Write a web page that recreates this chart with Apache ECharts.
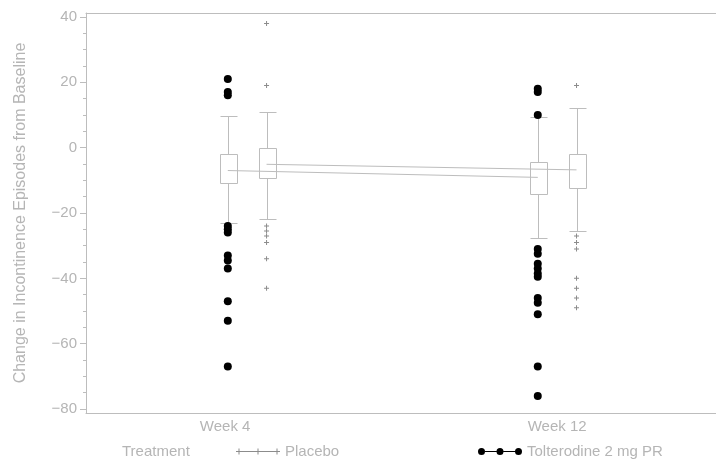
<!DOCTYPE html>
<html>
<head>
<meta charset="utf-8">
<script src="https://cdn.jsdelivr.net/npm/echarts@6/dist/echarts.min.js"></script>
<style>
html,body{margin:0;padding:0;background:#fff;}
#chart{width:716px;height:460px;}
</style>
</head>
<body>
<div id="chart"></div>
<script>
// Visits and their axis labels
const weeks = [4, 12];
const weekLabels = ['Week 4', 'Week 12'];

// Box summaries per visit: [lower whisker, Q1, median, Q3, upper whisker]
const tolterodineBox = [
  [-23.0, -10.8, -7.0, -1.9, 9.7],
  [-27.7, -14.1, -9.1, -4.5, 9.3]
];
const placeboBox = [
  [-21.8, -9.3, -5.1, -0.2, 10.9],
  [-25.4, -12.4, -6.8, -2.0, 12.0]
];

// Values outside the whiskers, per visit
const tolterodineOutliers = [
  [21, 17, 16, -24, -25, -26, -33, -34.5, -37, -47, -53, -67],
  [18, 17, 10, -31, -32.5, -35.5, -37, -38.5, -39.5, -46, -47.5, -51, -67, -76]
];
const placeboOutliers = [
  [38, 19, -24, -25.5, -27, -29, -34, -43],
  [19, -27, -29, -31, -40, -43, -46, -49]
];

// Y axis ticks
const yMajorTicks = [-80, -60, -40, -20, 0, 20, 40];
const yMinorTicks = [-80, -75, -70, -65, -60, -55, -50, -45, -40, -35, -30, -25, -20,
  -15, -10, -5, 0, 5, 10, 15, 20, 25, 30, 35, 40];

const TOL = 'Tolterodine 2 mg PR';
const PLA = 'Placebo';
const DODGE = 0.5;              // horizontal shift of each treatment around its visit
const LABEL_AT = [3.43, 12];    // where the visit names sit along the x axis
const BOX_W = 17;               // box width in pixels
const GREY = '#bdbdbd';
const TEXT = '#b5b5b5';
const FONT = 'Liberation Sans';

const X_MIN = -0.16, X_MAX = 16.1;
const Y_MIN = -81.2, Y_MAX = 41.2;

function boxRows(box, shift) {
  return box.map((b, i) => [weeks[i] + shift].concat(b));
}
function outlierRows(list, shift) {
  const rows = [];
  list.forEach((vals, i) => vals.forEach(v => rows.push([weeks[i] + shift, v])));
  return rows;
}
function medianRows(box, shift) {
  return box.map((b, i) => [weeks[i] + shift, b[2]]);
}

const px = v => Math.round(v) + 0.5;

function renderBox(params, api) {
  const x = api.value(0);
  const lo = api.coord([x, api.value(1)]);
  const q1 = api.coord([x, api.value(2)]);
  const q3 = api.coord([x, api.value(4)]);
  const hi = api.coord([x, api.value(5)]);
  const cx = px(lo[0]);
  const l = px(cx - BOX_W / 2), r = px(cx + BOX_W / 2);
  const yLo = px(lo[1]), yQ1 = px(q1[1]), yQ3 = px(q3[1]), yHi = px(hi[1]);
  const st = { stroke: GREY, lineWidth: 1, fill: null };
  const seg = (x1, y1, x2, y2) => ({ type: 'line', shape: { x1, y1, x2, y2 }, style: st });
  return {
    type: 'group',
    children: [
      { type: 'rect', shape: { x: l, y: yQ3, width: r - l, height: yQ1 - yQ3 }, style: st },
      seg(cx, yHi, cx, yQ3),
      seg(cx, yQ1, cx, yLo),
      seg(l, yHi, r, yHi),
      seg(l, yLo, r, yLo)
    ]
  };
}

const chart = echarts.init(document.getElementById('chart'), null, { renderer: 'canvas' });

const textStyle = { color: TEXT, fontFamily: FONT, fontSize: 15 };
const lineAxis = { show: true, onZero: false, lineStyle: { color: GREY, width: 1 } };

chart.setOption({
  animation: false,
  backgroundColor: '#fff',
  title: {
    text: 'Treatment',
    left: 122, top: 444, padding: 0,
    textStyle: Object.assign({ fontWeight: 'normal' }, textStyle)
  },
  legend: [
    {
      left: 236, top: 444, padding: 0,
      itemWidth: 44, itemHeight: 6,
      textStyle: textStyle,
      data: [{ name: PLA, icon: 'path://M0,3h44v1h-44zM2.5,0.5h1v6h-1zM21.5,0.5h1v6h-1zM40.5,0.5h1v6h-1z' }]
    },
    {
      left: 478, top: 444, padding: 0,
      itemWidth: 44, itemHeight: 7,
      textStyle: textStyle,
      data: [{
        name: TOL,
        icon: 'path://M0,3.5a3.5,3.5 0 1,0 7,0a3.5,3.5 0 1,0 -7,0zM18.5,3.5a3.5,3.5 0 1,0 7,0a3.5,3.5 0 1,0 -7,0zM37,3.5a3.5,3.5 0 1,0 7,0a3.5,3.5 0 1,0 -7,0zM7,3h11.5v1h-11.5zM25.5,3h11.5v1h-11.5z'
      }]
    }
  ],
  grid: { left: 86, right: 0, top: 13, bottom: 47, containLabel: false },
  xAxis: [
    {
      type: 'value', min: X_MIN, max: X_MAX,
      axisLine: lineAxis,
      axisTick: { show: false },
      splitLine: { show: false },
      axisLabel: {
        customValues: LABEL_AT,
        formatter: v => weekLabels[LABEL_AT.indexOf(v)],
        margin: 6,
        color: TEXT, fontFamily: FONT, fontSize: 15
      }
    },
    {
      type: 'value', position: 'top', min: X_MIN, max: X_MAX,
      axisLine: lineAxis,
      axisTick: { show: false }, axisLabel: { show: false }, splitLine: { show: false }
    }
  ],
  yAxis: [
    {
      type: 'value', min: Y_MIN, max: Y_MAX,
      name: 'Change in Incontinence Episodes from Baseline',
      nameLocation: 'middle', nameGap: 57,
      nameTextStyle: { color: TEXT, fontFamily: FONT, fontSize: 16 },
      axisLine: lineAxis,
      axisTick: { show: true, customValues: yMajorTicks, length: 6, lineStyle: { color: GREY } },
      splitLine: { show: false },
      axisLabel: {
        customValues: yMajorTicks,
        formatter: v => (v < 0 ? '\u2212' + (-v) : String(v)),
        margin: 9,
        color: TEXT, fontFamily: FONT, fontSize: 15
      }
    },
    {
      type: 'value', min: Y_MIN, max: Y_MAX, position: 'left',
      axisLine: { show: false, onZero: false },
      axisTick: { show: true, customValues: yMinorTicks, length: 3, lineStyle: { color: GREY } },
      axisLabel: { show: false }, splitLine: { show: false }
    }
  ],
  series: [
    {
      name: 'Medians ' + TOL, type: 'line', silent: true,
      data: medianRows(tolterodineBox, -DODGE),
      symbol: 'none', lineStyle: { color: GREY, width: 1 }, z: 1
    },
    {
      name: 'Medians ' + PLA, type: 'line', silent: true,
      data: medianRows(placeboBox, DODGE),
      symbol: 'none', lineStyle: { color: GREY, width: 1 }, z: 1
    },
    {
      name: 'Boxes', type: 'custom', renderItem: renderBox,
      encode: { x: 0, y: [1, 2, 3, 4, 5] },
      data: boxRows(tolterodineBox, -DODGE).concat(boxRows(placeboBox, DODGE)), z: 2
    },
    {
      name: TOL, type: 'scatter',
      data: outlierRows(tolterodineOutliers, -DODGE),
      symbol: 'circle', symbolSize: 8,
      itemStyle: { color: '#000', opacity: 1 }, z: 3
    },
    {
      name: PLA, type: 'scatter',
      data: outlierRows(placeboOutliers, DODGE),
      symbol: 'path://M2,0h1v5h-1zM0,2h5v1h-5z', symbolSize: 5,
      itemStyle: { color: '#8c8c8c', opacity: 1 }, z: 3
    }
  ]
});
</script>
</body>
</html>
